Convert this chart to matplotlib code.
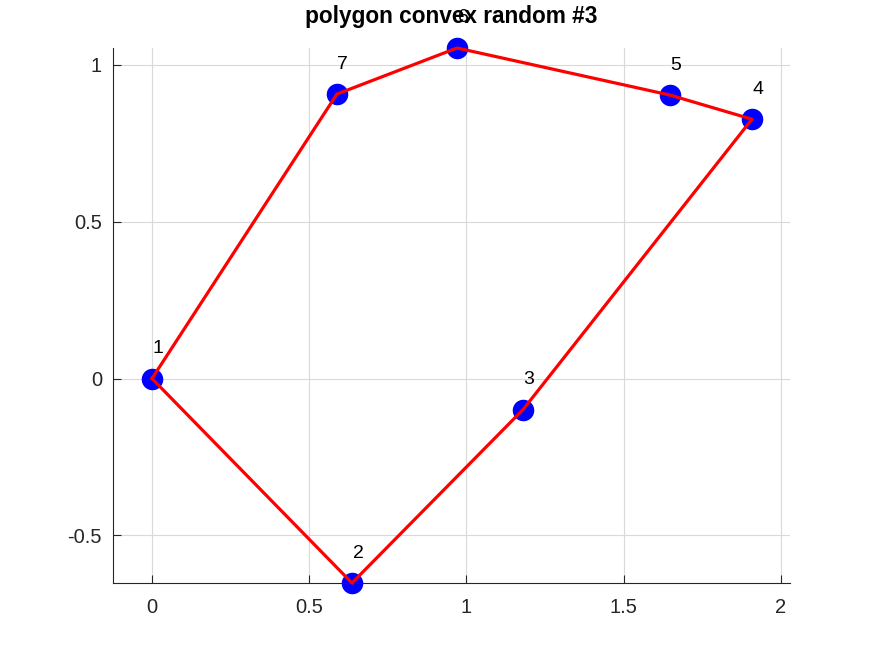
import matplotlib
matplotlib.use("Agg")
import matplotlib.pyplot as plt

plt.rcParams["font.family"] = ["Liberation Sans", "DejaVu Sans"]

labels = ["1", "2", "3", "4", "5", "6", "7"]
xs = [0.0, 0.636, 1.180, 1.908, 1.647, 0.970, 0.588]
ys = [0.0, -0.652, -0.099, 0.827, 0.904, 1.054, 0.907]
xticks = [0, 0.5, 1, 1.5, 2]
yticks = [-0.5, 0, 0.5, 1]
title = "polygon convex random #3"

fig = plt.figure(figsize=(8.73, 6.55), dpi=100)
ax = fig.add_axes([113 / 873, 72 / 655, 677 / 873, 535 / 655])

ax.plot(xs, ys, "o", color="blue", markersize=14.5, zorder=2, clip_on=False)
ax.plot(xs + xs[:1], ys + ys[:1], "-", color="red", linewidth=2.3, zorder=3,
        clip_on=False)
for lab, x, y in zip(labels, xs, ys):
    ax.annotate(lab, (x, y), xytext=(4.3, 21.6), textcoords="offset points",
                ha="center", va="center", fontsize=14, color="black", zorder=4)

ax.set_xlim(-0.124, 2.029)
ax.set_ylim(-0.652, 1.054)
ax.set_xticks(xticks)
ax.set_xticklabels(["0", "0.5", "1", "1.5", "2"])
ax.set_yticks(yticks)
ax.set_yticklabels(["-0.5", "0", "0.5", "1"])
ax.grid(True, color="#d9d9d9", linewidth=0.8)
ax.set_axisbelow(True)
for s in ["top", "right"]:
    ax.spines[s].set_visible(False)
for s in ["left", "bottom"]:
    ax.spines[s].set_color("#262626")
    ax.spines[s].set_linewidth(0.8)
ax.tick_params(direction="in", length=6, width=0.8, colors="#262626",
               labelsize=14.5)
ax.tick_params(axis="x", pad=10.5)
ax.tick_params(axis="y", pad=8)
ax.set_title(title, fontsize=16.3, fontweight="bold", pad=18)

fig.savefig("out.png", dpi=100)
